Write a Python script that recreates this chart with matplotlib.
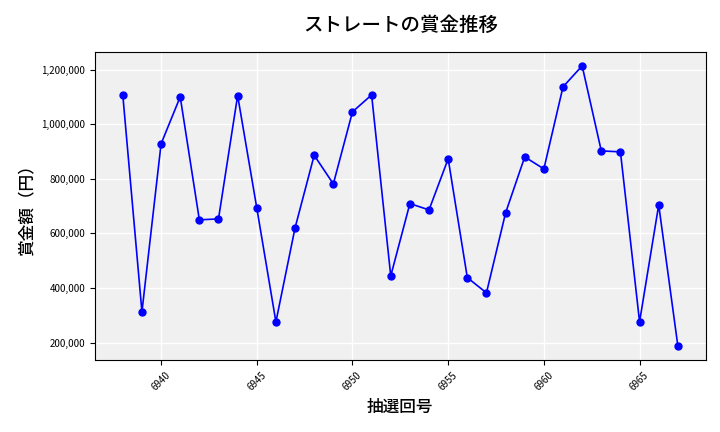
import matplotlib
matplotlib.use("Agg")
import matplotlib.pyplot as plt
from matplotlib.ticker import FuncFormatter

plt.rcParams['font.family'] = ['Noto Sans CJK JP', 'DejaVu Sans']

draws = list(range(6938, 6968))
prizes = [1107000, 312500, 927800, 1100000, 649500, 653000, 1104800, 693300,
          275700, 620000, 886000, 781000, 1045000, 1107000, 444000, 709000,
          686000, 873000, 438000, 382000, 675000, 880000, 836000, 1136500,
          1213500, 902000, 898500, 276000, 704000, 188000]

fig = plt.figure(figsize=(7.2, 4.32), dpi=100)
ax = fig.add_axes([0.132, 0.167, 0.848, 0.713])
ax.set_facecolor('#f0f0f0')
ax.grid(True, color='white', linewidth=1)
ax.set_axisbelow(True)
ax.plot(draws, prizes, color='blue', marker='o', markersize=5, linewidth=1.2)
ax.yaxis.set_major_formatter(FuncFormatter(lambda v, p: f"{int(v):,}"))
ax.set_xticks([6940, 6945, 6950, 6955, 6960, 6965])
plt.setp(ax.get_xticklabels(), rotation=45, fontsize=7)
plt.setp(ax.get_yticklabels(), fontsize=7)
ax.set_title('ストレートの賞金推移', fontsize=14, fontweight='medium', pad=15)
ax.set_xlabel('抽選回号', fontsize=12, fontweight='medium')
ax.set_ylabel('賞金額（円）', fontsize=12, fontweight='medium')
fig.savefig('out.png', dpi=100)
